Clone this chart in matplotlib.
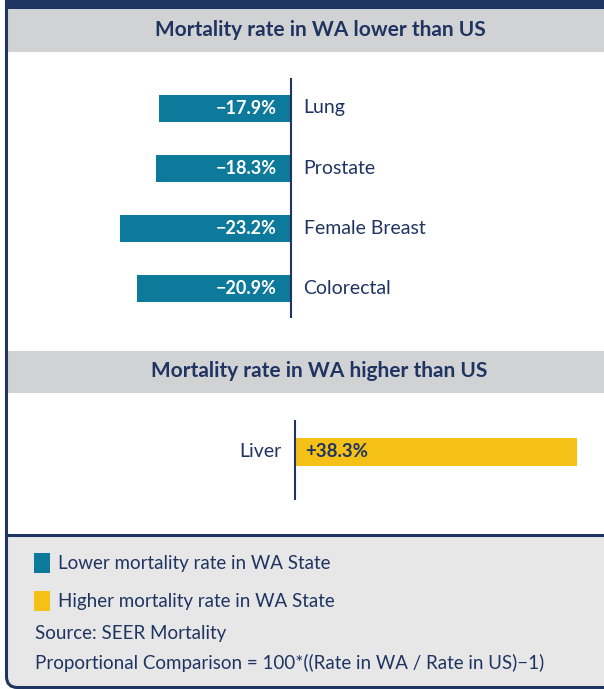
import matplotlib
matplotlib.use('Agg')
import matplotlib.pyplot as plt
from matplotlib.patches import Rectangle, PathPatch
from matplotlib.path import Path

# data
lower_categories = ['Lung', 'Prostate', 'Female Breast', 'Colorectal']
lower_values = [-17.9, -18.3, -23.2, -20.9]
higher_categories = ['Liver']
higher_values = [38.3]

legend_labels = ['Lower mortality rate in WA State', 'Higher mortality rate in WA State']
title_lower = 'Mortality rate in WA lower than US'
title_higher = 'Mortality rate in WA higher than US'
source_note = 'Source: SEER Mortality'
formula_note = 'Proportional Comparison = 100*((Rate in WA / Rate in US)\u22121)'

NAVY = '#1f3461'
TEAL = '#0d7a9b'
YELLOW = '#f6c117'
HEAD_GRAY = '#d1d2d4'
FOOT_GRAY = '#e7e7e7'

plt.rcParams['font.family'] = ['Lato', 'DejaVu Sans']

W, H = 604, 689
PX_PER_UNIT = 7.36  # pixels per percentage point

fig = plt.figure(figsize=(W / 100, H / 100), dpi=100)
fig.patch.set_facecolor('white')

# background layer in pixel coordinates
bg = fig.add_axes([0, 0, 1, 1])
bg.set_xlim(0, W)
bg.set_ylim(H, 0)
bg.axis('off')

bg.add_patch(Rectangle((5, 0), W, 9, color=NAVY, lw=0))
bg.add_patch(Rectangle((8, 9), W, 43, color=HEAD_GRAY, lw=0))
bg.add_patch(Rectangle((8, 351), W, 42, color=HEAD_GRAY, lw=0))

# footer with rounded bottom-left corner
r = 11
fill = Path([(6.5, 534.5), (6.5, 687.5 - r), (6.5, 687.5), (6.5 + r, 687.5),
             (W + 5, 687.5), (W + 5, 534.5), (6.5, 534.5)],
            [Path.MOVETO, Path.LINETO, Path.CURVE3, Path.CURVE3,
             Path.LINETO, Path.LINETO, Path.CLOSEPOLY])
bg.add_patch(PathPatch(fill, facecolor=FOOT_GRAY, edgecolor='none'))
border = Path([(6.5, 0), (6.5, 687.5 - r), (6.5, 687.5), (6.5 + r, 687.5), (W + 5, 687.5)],
              [Path.MOVETO, Path.LINETO, Path.CURVE3, Path.CURVE3, Path.LINETO])
bg.add_patch(PathPatch(border, facecolor='none', edgecolor=NAVY, lw=2.2))
bg.plot([6.5, W], [534.5, 534.5], color=NAVY, lw=2.2, solid_capstyle='butt')

bg.text(320, 30, title_lower, ha='center', va='center', fontsize=15,
        fontweight='bold', color=NAVY)
bg.text(319, 371, title_higher, ha='center', va='center', fontsize=15,
        fontweight='bold', color=NAVY)

# legend and notes
for i, (lab, col) in enumerate(zip(legend_labels, [TEAL, YELLOW])):
    y = 563 + i * 38
    bg.add_patch(Rectangle((34, y - 10), 16, 20, color=col, lw=0))
    bg.text(58, y, lab, ha='left', va='center', fontsize=13.5, color=NAVY)
bg.text(35, 633, source_note, ha='left', va='center', fontsize=13.5, color=NAVY)
bg.text(35, 663, formula_note, ha='left', va='center', fontsize=13.5, color=NAVY)

# lower panel (negative bars)
ax1 = fig.add_axes([0, 1 - 318 / H, 1, 240 / H])
ax1.set_xlim(-291 / PX_PER_UNIT, (W - 291) / PX_PER_UNIT)
ax1.set_ylim(len(lower_categories) - 0.5, -0.5)
ax1.axis('off')
ax1.barh(range(len(lower_values)), lower_values, height=0.45, color=TEAL)
ax1.axvline(0, color=NAVY, lw=1.5)
for i, (cat, v) in enumerate(zip(lower_categories, lower_values)):
    ax1.annotate(f'\u2212{abs(v):.1f}%', xy=(0, i), xytext=(-10, 0),
                 textcoords='offset points', ha='right', va='center',
                 fontsize=13, fontweight='bold', color='white')
    ax1.annotate(cat, xy=(0, i), xytext=(9, 0), textcoords='offset points',
                 ha='left', va='center', fontsize=14, color=NAVY)

# higher panel (positive bar)
ax2 = fig.add_axes([0, 1 - 500 / H, 1, 80 / H])
ax2.set_xlim(-295 / PX_PER_UNIT, (W - 295) / PX_PER_UNIT)
ax2.set_ylim(-0.6, 0.4)
ax2.axis('off')
ax2.barh(range(len(higher_values)), higher_values, height=0.35, color=YELLOW)
ax2.axvline(0, color=NAVY, lw=1.5)
for i, (cat, v) in enumerate(zip(higher_categories, higher_values)):
    ax2.annotate(f'+{v:.1f}%', xy=(0, i), xytext=(7, 0),
                 textcoords='offset points', ha='left', va='center',
                 fontsize=13.5, fontweight='bold', color=NAVY)
    ax2.annotate(cat, xy=(0, i), xytext=(-10, 0), textcoords='offset points',
                 ha='right', va='center', fontsize=14, color=NAVY)

fig.savefig('out.png', dpi=100)
